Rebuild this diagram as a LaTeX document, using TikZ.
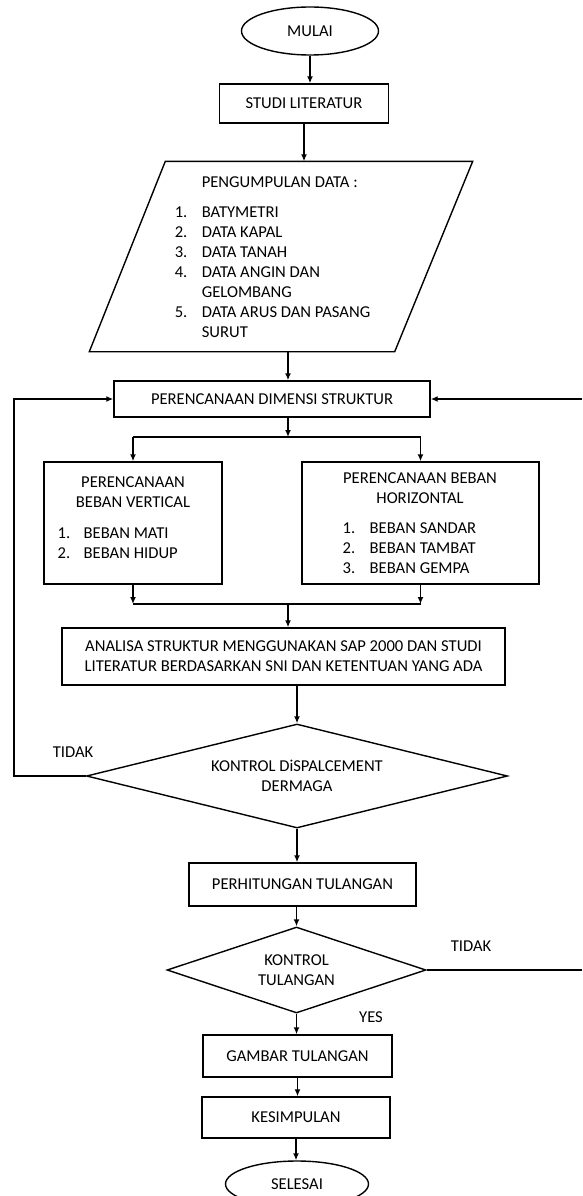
\documentclass[tikz,border=0pt]{standalone}
\usepackage{fontspec}
\setmainfont{Carlito}
\usetikzlibrary{calc,shapes.geometric,arrows.meta}

\begin{document}
\begin{tikzpicture}[x=1pt, y=-1pt, line width=1.4pt,
  >={Latex[length=7pt,width=6pt]},
  every node/.style={font=\fontsize{16.6}{20}\selectfont, inner sep=0pt},
  proses/.style={draw, rectangle, align=center},
  cabang/.style={draw, diamond, shape aspect=4, align=center},
  ujung/.style={draw, ellipse}]
  \useasboundingbox (0,0) rectangle (582,1196);
  \clip (0,0) rectangle (582,1196);

  \node[ujung, minimum width=137pt, minimum height=48pt] (mulai) at (310,31) {MULAI};
  \node[proses, minimum width=169pt, minimum height=39pt] (studi) at (304,103.5) {STUDI LITERATUR};

  \node[minimum width=382pt, minimum height=189pt] (data) at (281,256.5) {};
  \draw ($(data.north west)+(76,0)$) -- (data.north east) -- ($(data.south east)+(-78,0)$)
    -- (data.south west) -- cycle;
  \node[align=left] (datateks) at (272.5,257) {\hspace*{27pt}PENGUMPULAN DATA :\\[10pt]
    \makebox[27pt][l]{1.}BATYMETRI\\
    \makebox[27pt][l]{2.}DATA KAPAL\\
    \makebox[27pt][l]{3.}DATA TANAH\\
    \makebox[27pt][l]{4.}DATA ANGIN DAN\\
    \hspace*{27pt}GELOMBANG\\
    \makebox[27pt][l]{5.}DATA ARUS DAN PASANG\\
    \hspace*{27pt}SURUT};

  \node[proses, minimum width=316pt, minimum height=36pt] (dim) at (272,399) {PERENCANAAN DIMENSI STRUKTUR};

  \node[proses, minimum width=178pt, minimum height=122pt] (vert) at (133,523) {};
  \node[align=center] (vertjudul) at (133,492) {PERENCANAAN\\BEBAN VERTICAL};
  \node[align=left, anchor=west] (vertisi) at (57,543) {\makebox[26pt][l]{1.}BEBAN MATI\\
    \makebox[26pt][l]{2.}BEBAN HIDUP};

  \node[proses, minimum width=237pt, minimum height=122pt] (horiz) at (420.5,523) {};
  \node[align=center] (horizjudul) at (420,488) {PERENCANAAN BEBAN\\HORIZONTAL};
  \node[align=left, anchor=west] (horizisi) at (342,548) {\makebox[27pt][l]{1.}BEBAN SANDAR\\
    \makebox[27pt][l]{2.}BEBAN TAMBAT\\
    \makebox[27pt][l]{3.}BEBAN GEMPA};

  \node[proses, minimum width=443pt, minimum height=57pt] (analisa) at (283.5,656.5)
    {ANALISA STRUKTUR MENGGUNAKAN SAP 2000 DAN STUDI\\LITERATUR BERDASARKAN SNI DAN KETENTUAN YANG ADA};

  \node[cabang, minimum width=421pt, minimum height=104pt] (kontrol) at (297,776) {KONTROL DiSPALCEMENT\\DERMAGA};
  \node[proses, minimum width=227pt, minimum height=43pt] (hitung) at (302.5,884.5) {PERHITUNGAN TULANGAN};
  \node[cabang, minimum width=259pt, minimum height=86pt] (cek) at (296.5,970) {KONTROL\\TULANGAN};
  \node[proses, minimum width=189pt, minimum height=42pt] (gambar) at (297.5,1056) {GAMBAR TULANGAN};
  \node[proses, minimum width=188pt, minimum height=41pt] (simpul) at (296,1117.5) {KESIMPULAN};
  \node[ujung, minimum width=143pt, minimum height=46pt] (selesai) at (297,1184) {SELESAI};

  \node (tidak1) at (73,752) {TIDAK};
  \node (tidak2) at (471,946) {TIDAK};
  \node (ya) at (371,1017) {YES};

  \coordinate (kolom) at (288,0);
  \coordinate (bagi) at (288,437);
  \coordinate (gabung) at (288,604);
  \coordinate (kiri) at (14,0);
  \coordinate (kanan) at (582,0);

  \draw[->] (mulai.south) -- (mulai.south |- studi.north);
  \draw[->] (studi.south) -- (studi.south |- data.north);
  \draw[->] (kolom |- data.south) -- (kolom |- dim.north);
  \draw[->] (kolom |- dim.south) -- (bagi);
  \draw (vert.north |- bagi) -- (horiz.north |- bagi);
  \draw[->] (vert.north |- bagi) -- (vert.north);
  \draw[->] (horiz.north |- bagi) -- (horiz.north);
  \draw[->] (vert.south) -- (vert.south |- gabung);
  \draw[->] (horiz.south) -- (horiz.south |- gabung);
  \draw (vert.south |- gabung) -- (horiz.south |- gabung);
  \draw[->] (gabung) -- (kolom |- analisa.north);
  \draw[->] (kontrol |- analisa.south) -- (kontrol.north);
  \draw[->] (kontrol.south) -- (kontrol.south |- hitung.north);
  \draw[->] (cek |- hitung.south) -- (cek.north);
  \draw[->] (cek.south) -- (cek.south |- gambar.north);
  \draw[->] (gambar.south) -- (gambar.south |- simpul.north);
  \draw[->] (simpul.south) -- (simpul.south |- selesai.north);

  \draw[->] (kontrol.west) -- (kiri |- kontrol.west) -- (kiri |- dim.west) -- (dim.west);
  \draw[->] (kanan |- dim.east) -- (dim.east);
  \draw (cek.east) -- (kanan |- cek.east);
\end{tikzpicture}
\end{document}
